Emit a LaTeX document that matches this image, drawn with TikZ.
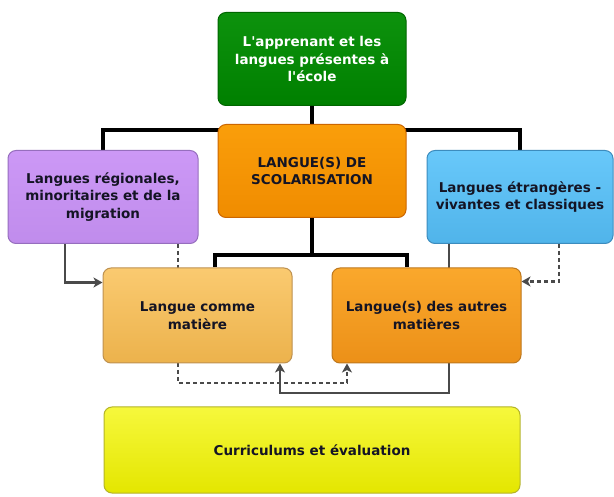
\documentclass[tikz,border=0pt]{standalone}
\usepackage{fontspec}
\setmainfont{DejaVu Sans}
\usetikzlibrary{arrows.meta,backgrounds}
\definecolor{txt}{HTML}{141424}
\definecolor{lnk}{HTML}{4A4A4A}
\begin{document}
\begin{tikzpicture}[x=1pt,y=-1pt,
  box/.style={rounded corners=8pt, line width=1pt, align=center,
    minimum height=93pt, text=txt, inner sep=4pt,
    font=\bfseries\fontsize{13.5}{17.5}\selectfont},
  heavy/.style={line width=3.8pt, black},
  solidlink/.style={line width=2.2pt, lnk, -{Stealth[length=9pt,width=10pt,inset=2.5pt]}},
  dashlink/.style={line width=2.2pt, lnk, dash pattern=on 4pt off 3pt, -{Stealth[length=9pt,width=10pt,inset=2.5pt]}}
]
\useasboundingbox (0,0) rectangle (614,497);

\node[box, minimum width=188pt, draw=green!40!black, top color=green!55!black!95!white, bottom color=green!50!black, text=white] (green) at (312,59)
  {L\textquotesingle apprenant et les\\langues présentes à\\l\textquotesingle école};
\node[box, minimum width=188pt, draw=orange!80!black, top color={rgb,255:red,250;green,158;blue,10}, bottom color={rgb,255:red,240;green,140;blue,0}] (center) at (312,171)
  {LANGUE(S) DE\\SCOLARISATION};
\node[box, minimum width=190pt, draw={rgb,255:red,150;green,110;blue,190}, top color={rgb,255:red,204;green,152;blue,246}, bottom color={rgb,255:red,192;green,140;blue,236}] (purple) at (103,197)
  {Langues régionales,\\minoritaires et de la\\migration};
\node[box, minimum width=186pt, draw={rgb,255:red,60;green,140;blue,190}, top color={rgb,255:red,104;green,200;blue,250}, bottom color={rgb,255:red,80;green,180;blue,234}] (blue) at (520,197)
  {Langues étrangères -\\vivantes et classiques};
\node[box, minimum width=189pt, minimum height=95pt, draw={rgb,255:red,190;green,145;blue,80}, top color={rgb,255:red,250;green,202;blue,112}, bottom color={rgb,255:red,236;green,178;blue,76}] (lo) at (197.5,315.5)
  {Langue comme\\matière};
\node[box, minimum width=189pt, minimum height=95pt, draw={rgb,255:red,190;green,120;blue,30}, top color={rgb,255:red,250;green,168;blue,44}, bottom color={rgb,255:red,236;green,144;blue,24}] (do) at (426.5,315.5)
  {Langue(s) des autres\\matières};
\node[box, minimum width=416pt, minimum height=86pt, draw={rgb,255:red,180;green,180;blue,40}, top color={rgb,255:red,246;green,248;blue,60}, bottom color={rgb,255:red,228;green,230;blue,0}] (yellow) at (312,450)
  {Curriculums et évaluation};

\coordinate (top) at (312,130);
\coordinate (mid) at (312,255);
\coordinate (dl) at (178,383);
\coordinate (sl) at (449,393);

\begin{scope}[on background layer]
  \fill[white] (0,0) rectangle (614,497);
  \draw[heavy] (green.south) -- (center.north);
  \draw[heavy] (purple.north) |- (top) -| (blue.north);
  \draw[heavy] (center.south) -- (mid);
  \draw[heavy] ([xshift=17.5pt]lo.north) |- (mid) -| ([xshift=-19.5pt]do.north);
  \draw[solidlink] ([xshift=-38pt]purple.south) |- ([yshift=33pt]lo.west);
  \draw[dashlink] ([xshift=75pt]purple.south) -- (dl) -| ([xshift=-79.5pt]do.south);
  \draw[solidlink] ([xshift=-71pt]blue.south) -- (sl) -| ([xshift=82.5pt]lo.south);
  \draw[dashlink] ([xshift=39pt]blue.south) |- ([yshift=34pt]do.east);
\end{scope}
\end{tikzpicture}
\end{document}
